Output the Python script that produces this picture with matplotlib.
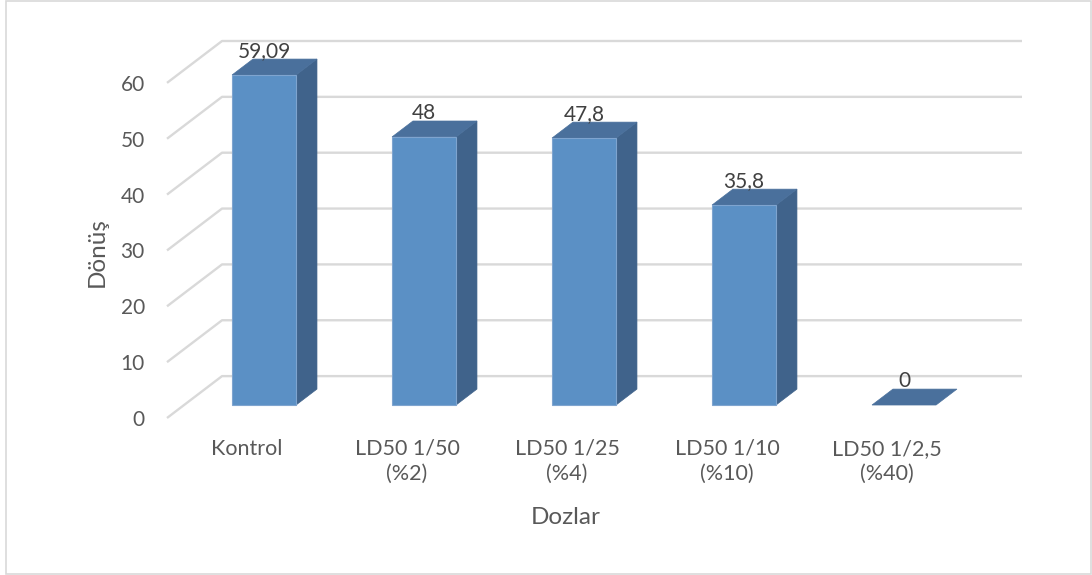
import numpy as np
import matplotlib
matplotlib.use('Agg')
import matplotlib.pyplot as plt
from matplotlib.patches import Polygon, Rectangle

plt.rcParams['font.family'] = ['Lato', 'DejaVu Sans']

# data
categories = ['Kontrol', 'LD50 1/50\n(%2)', 'LD50 1/25\n(%4)', 'LD50 1/10\n(%10)', 'LD50 1/2,5\n(%40)']
values = [59.09, 48, 47.8, 35.8, 0]
value_labels = ['59,09', '48', '47,8', '35,8', '0']
y_ticks = [0, 10, 20, 30, 40, 50, 60]

# fake 3d: depth offset of the floor (in category / value units)
DX = 0.344
DY = 7.5
D_FRONT = 0.31   # bar front plane depth
D_BACK = 0.69    # bar back plane depth
BAR_W = 0.4

FRONT_C = '#5B90C5'
SIDE_C = '#40638B'
TOP_C = '#4A709C'
EDGE_C = '#7FA4CF'
GRID_C = '#D9D9D9'
TEXT_C = '#595959'

fig = plt.figure(figsize=(10.92, 5.75), dpi=100)
fig.add_artist(Rectangle((6 / 1092, 1 / 575), 1085 / 1092, 573 / 575,
                         transform=fig.transFigure, fill=False,
                         edgecolor=GRID_C, lw=1.2))

ax = fig.add_axes([167 / 1092, 157 / 575, 863 / 1092, 398 / 575])
ax.set_xlim(-0.5, 4.894)
ax.set_ylim(0, 71.26)
for s in ax.spines.values():
    s.set_visible(False)


def proj(x, v, d):
    return (x + d * DX, v + d * DY)


# gridlines: back wall + left wall diagonals
x_left = -0.5
x_right = len(categories) - 0.5
for t in y_ticks:
    p0 = proj(x_left, t, 0)
    p1 = proj(x_left, t, 1)
    p2 = proj(x_right, t, 1)
    ax.plot([p0[0], p1[0], p2[0]], [p0[1], p1[1], p2[1]],
            color=GRID_C, lw=1.7, zorder=1, solid_capstyle='butt', clip_on=False)

# bars
for i, v in enumerate(values):
    x0 = i - BAR_W / 2
    x1 = i + BAR_W / 2
    top = [proj(x0, v, D_FRONT), proj(x1, v, D_FRONT), proj(x1, v, D_BACK), proj(x0, v, D_BACK)]
    if v > 0:
        front = [proj(x0, 0, D_FRONT), proj(x1, 0, D_FRONT), proj(x1, v, D_FRONT), proj(x0, v, D_FRONT)]
        side = [proj(x1, 0, D_FRONT), proj(x1, 0, D_BACK), proj(x1, v, D_BACK), proj(x1, v, D_FRONT)]
        ax.add_patch(Polygon(side, closed=True, facecolor=SIDE_C, edgecolor=SIDE_C, lw=0.5, zorder=3))
        ax.add_patch(Polygon(front, closed=True, facecolor=FRONT_C, edgecolor=EDGE_C, lw=0.8, zorder=4))
    ax.add_patch(Polygon(top, closed=True, facecolor=TOP_C, edgecolor=TOP_C, lw=0.5, zorder=3))

    lx, ly = proj(i, v, D_FRONT)
    ly = v + D_BACK * DY + 0.4
    ax.text(lx, ly, value_labels[i], ha='center', va='baseline',
            fontsize=15, color='#404040', zorder=5)

ax.set_yticks(y_ticks)
ax.set_yticklabels([str(t) for t in y_ticks])
ax.set_xticks(range(len(categories)))
ax.set_xticklabels(categories, linespacing=1.3)
ax.tick_params(axis='y', length=0, pad=16, labelsize=15, labelcolor=TEXT_C)
ax.tick_params(axis='x', length=0, pad=15, labelsize=15.5, labelcolor=TEXT_C)

fig.text(97 / 1092, 1 - 252 / 575, 'Dönüş', rotation=90, ha='center', va='center',
         fontsize=17.5, color=TEXT_C)
fig.text(566 / 1092, 1 - 517 / 575, 'Dozlar', ha='center', va='center',
         fontsize=17.5, color=TEXT_C)

fig.savefig('out.png', dpi=100)
